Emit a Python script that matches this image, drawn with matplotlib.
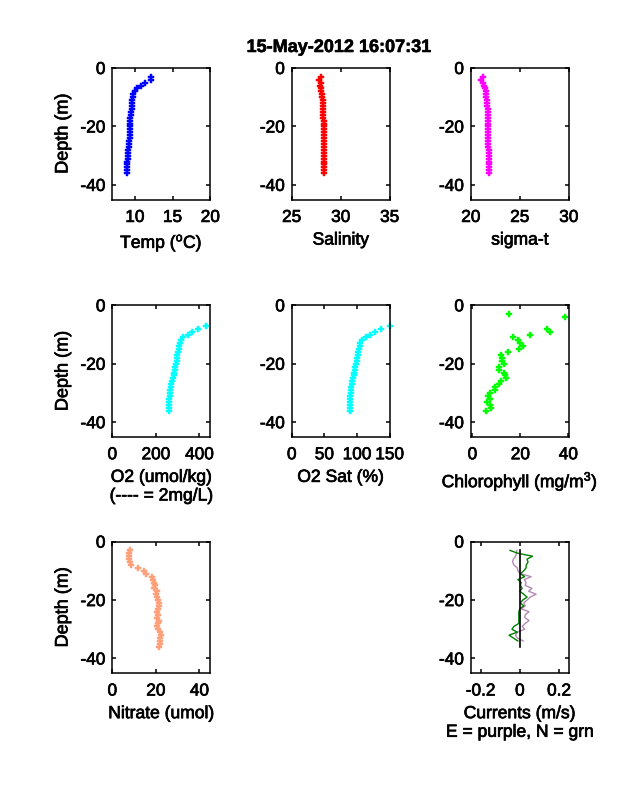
import matplotlib
matplotlib.use("Agg")
import matplotlib.pyplot as plt
import matplotlib.patheffects as pe

plt.rcParams['font.family'] = ['Liberation Sans', 'DejaVu Sans']
plt.rcParams['mathtext.fontset'] = 'custom'
plt.rcParams['mathtext.rm'] = 'Liberation Sans'
plt.rcParams['mathtext.default'] = 'regular'
plt.rcParams['axes.unicode_minus'] = False

depth_full = list(range(3, 37))
depth_o2 = list(range(7, 37))
depth_chl = [3, 4] + list(range(8, 37))
depth_cur = list(range(3, 35))

temp = [12.2, 12.1, 11.3, 10.8, 10.3, 10.0, 9.8, 9.7, 9.6, 9.6, 9.6, 9.6, 9.5, 9.5, 9.4, 9.4, 9.3,
        9.3, 9.35, 9.4, 9.4, 9.3, 9.2, 9.2, 9.15, 9.1, 9.1, 9.1, 9.1, 9.0, 9.0, 9.0, 8.95, 8.95]
salinity = [28.0, 27.8, 28.0, 27.9, 27.95, 28.0, 28.1, 28.1, 28.15, 28.15, 28.15, 28.15, 28.15, 28.2, 28.2,
            28.25, 28.25, 28.25, 28.25, 28.25, 28.25, 28.25, 28.25, 28.25, 28.25, 28.25, 28.25, 28.25,
            28.25, 28.25, 28.25, 28.25, 28.25, 28.25]
sigma_t = [21.2, 21.0, 21.2, 21.3, 21.45, 21.5, 21.6, 21.6, 21.7, 21.7, 21.7, 21.75, 21.75, 21.75, 21.75,
           21.75, 21.75, 21.75, 21.75, 21.75, 21.75, 21.75, 21.8, 21.8, 21.8, 21.85, 21.85, 21.85, 21.85,
           21.85, 21.85, 21.85, 21.85, 21.85]
o2_umol = [430, 392, 368, 346, 325, 315, 309, 306, 304, 301, 299, 297, 295, 292, 288, 287, 285, 282, 279,
           276, 271, 268, 267, 265, 264, 262, 261, 260, 259, 259]
o2_sat = [150, 137, 127, 120, 113, 108, 105.3, 104, 102.7, 102, 101, 100.5, 99.6, 98.5, 97.5, 96.5, 95.5,
          95, 94, 93, 92, 91, 90.5, 90, 89.5, 89, 88.8, 88.6, 88.5, 88.5]
chlorophyll = [15.4, 38.7, 31.1, 32.5, 24.1, 17, 19.1, 19.9, 21.2, 19.5, 15, 12, 12.5, 12.3, 13, 11, 11,
               13.2, 13.7, 14, 12, 11, 9.5, 9.3, 7.5, 6.7, 7.5, 6.1, 7.2, 7.9, 5.7]
nitrate = [8, 7.7, 7.6, 7.7, 8, 8.4, 11.6, 14.5, 15.3, 18.2, 18.6, 19.2, 19.4, 19, 20.5, 20, 20.5, 21, 21.4,
           21.3, 20.8, 20.5, 20.8, 20.5, 21.3, 21, 20.5, 21.1, 21.7, 22.3, 21.7, 21.7, 21.7, 21.3]
east = [-0.015, -0.017, -0.022, -0.033, -0.037, -0.03, -0.013, -0.01, 0.003, 0.058, 0.023, 0.032, 0.028,
        0.062, 0.045, 0.083, 0.053, 0.037, 0.02, 0.028, 0.007, 0.047, 0.028, 0.025, 0.047, 0.028, 0.012,
        0.025, -0.013, -0.022, -0.013, 0.017]
north = [-0.05, -0.01, 0.065, 0.037, 0.042, 0.033, 0.032, 0.02, 0.003, 0.025, -0.01, 0.007, 0.003, 0.012,
         0.0, 0.02, 0.037, 0.015, 0.003, 0.02, 0.0, -0.005, -0.005, -0.005, -0.005, -0.005, -0.03, -0.04,
         -0.013, -0.055, -0.033, -0.01]
zero_current = [0] * len(depth_full)

title = '15-May-2012 16:07:31'
ylabel = 'Depth (m)'
yticks = [0, -20, -40]

W, H = 638, 788
fig = plt.figure(figsize=(W / 100, H / 100), dpi=100)
col_l = [112.3, 291.7, 470.8]
row_t = [68, 305.3, 541.6]
ax_w, ax_h = 98, 131.5
heavy = [pe.withStroke(linewidth=0.5, foreground='black')]


def panel(c, r, xlim, xticks, xlabel, with_ylabel=False):
    ax = fig.add_axes([col_l[c] / W, 1 - (row_t[r] + ax_h) / H, ax_w / W, ax_h / H])
    ax.set_xlim(*xlim)
    ax.set_ylim(-45, 0)
    ax.set_xticks(xticks)
    ax.set_xticklabels([f'{t:g}' for t in xticks])
    ax.set_yticks(yticks)
    ax.tick_params(direction='in', top=True, right=True, length=3, width=1.1, labelsize=12.4, pad=7.5)
    ax.tick_params(axis='y', pad=5)
    for s in ax.spines.values():
        s.set_linewidth(1.1)
    ax.set_xlabel(xlabel, fontsize=12.6, labelpad=5.5, linespacing=1.3)
    ax.xaxis.label.set_path_effects(heavy)
    if with_ylabel:
        ax.set_ylabel(ylabel, fontsize=13, labelpad=6.5)
        ax.yaxis.label.set_path_effects(heavy)
    for t in ax.get_xticklabels() + ax.get_yticklabels():
        t.set_path_effects(heavy)
    return ax


def prof(ax, x, d, color):
    ax.plot(x, [-v for v in d], ls='none', marker='P', ms=5.0, mew=0.3, mec=color, color=color, clip_on=False)


prof(panel(0, 0, (7, 20), [10, 15, 20], 'Temp ($^{o}$C)', True), temp, depth_full, '#0000ff')
prof(panel(1, 0, (25, 35), [25, 30, 35], 'Salinity'), salinity, depth_full, '#ff0000')
prof(panel(2, 0, (20, 30), [20, 25, 30], 'sigma-t'), sigma_t, depth_full, '#ff00ff')
prof(panel(0, 1, (0, 450), [0, 200, 400], 'O2 (umol/kg)\n(---- = 2mg/L)', True), o2_umol, depth_o2, '#00ffff')
prof(panel(1, 1, (0, 150), [0, 50, 100, 150], 'O2 Sat (%)'), o2_sat, depth_o2, '#00ffff')
prof(panel(2, 1, (-0.66, 40.2), [0, 20, 40], 'Chlorophyll (mg/m$^{3}$)'), chlorophyll, depth_chl, '#00ff00')
prof(panel(0, 2, (0, 45), [0, 20, 40], 'Nitrate (umol)', True), nitrate, depth_full, '#ffa07a')

ax = panel(2, 2, (-0.25, 0.25), [-0.2, 0, 0.2], 'Currents (m/s)\nE = purple, N = grn')
ax.plot(east, [-v for v in depth_cur], color='#b48cb4', lw=1)
ax.plot(north, [-v for v in depth_cur], color='#008000', lw=1)
ax.plot(zero_current, [-v for v in depth_full], color='black', lw=1.2)

fig.text(339 / W, 1 - 47.5 / H, title, ha='center', va='center', fontsize=13, fontweight='bold',
         path_effects=[pe.withStroke(linewidth=0.4, foreground='black')])
fig.savefig('out.png', dpi=100)
